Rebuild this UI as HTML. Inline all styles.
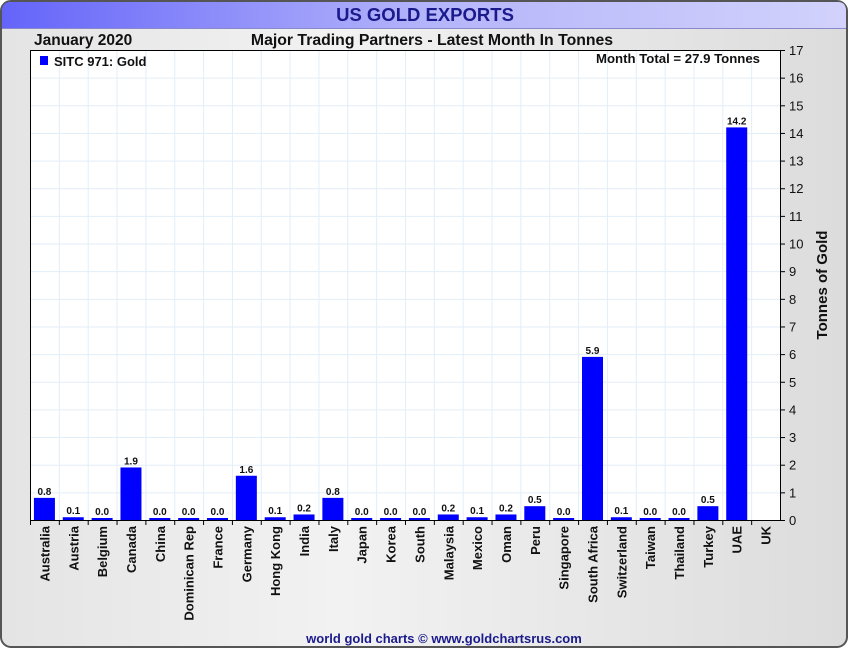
<!DOCTYPE html>
<html><head><meta charset="utf-8"><style>
body{margin:0;width:850px;height:650px;overflow:hidden;background:#fff;font-family:"Liberation Sans",sans-serif}
</style></head><body>
<svg width="850" height="650" xmlns="http://www.w3.org/2000/svg">
<defs>
<linearGradient id="hdr" x1="0" x2="1"><stop offset="0" stop-color="#6464fa"/><stop offset="0.5" stop-color="#b4b4fa"/><stop offset="1" stop-color="#d2d2fc"/></linearGradient>
<linearGradient id="bg" x1="0" x2="1"><stop offset="0" stop-color="#e4e4e4"/><stop offset="0.4" stop-color="#f2f2f2"/><stop offset="1" stop-color="#dcdcdc"/></linearGradient>
</defs>
<rect x="1" y="1" width="846" height="646" rx="10" fill="url(#bg)" stroke="#555" stroke-width="2"/>
<path d="M2,28 L2,11 Q2,2 11,2 L838,2 Q846,2 846,11 L846,28 Z" fill="url(#hdr)"/>
<line x1="2" y1="28.5" x2="846" y2="28.5" stroke="#8888cc"/>
<text x="425" y="21" text-anchor="middle" font-size="18.5" font-weight="bold" fill="#1a1a8c">US GOLD EXPORTS</text>
<text x="34" y="45" font-size="15.5" font-weight="bold" fill="#111">January 2020</text>
<text x="432" y="45" text-anchor="middle" font-size="15.8" font-weight="bold" fill="#111">Major Trading Partners - Latest Month In Tonnes</text>
<rect x="30" y="50" width="750" height="470" fill="#fff"/>
<g id="grid"></g>
<g id="bars"></g>
<rect x="30.5" y="50.5" width="750" height="470" fill="none" stroke="#000"/>
<rect x="40" y="56" width="8" height="9" fill="#0000ff"/>
<text x="54" y="66" font-size="13" font-weight="bold" fill="#111">SITC 971: Gold</text>
<text x="760" y="63" text-anchor="end" font-size="13.2" font-weight="bold" fill="#111">Month Total = 27.9 Tonnes</text>
<g id="yticks"></g>
<g id="xlabels"></g>
<text transform="translate(827,285) rotate(-90)" text-anchor="middle" font-size="15" font-weight="bold" fill="#111">Tonnes of Gold</text>
<text x="444" y="643" text-anchor="middle" font-size="13" font-weight="bold" fill="#1a1a8c">world gold charts © www.goldchartsrus.com</text>
</svg>
<script>
const categories=["Australia","Austria","Belgium","Canada","China","Dominican Rep","France","Germany","Hong Kong","India","Italy","Japan","Korea","South","Malaysia","Mexico","Oman","Peru","Singapore","South Africa","Switzerland","Taiwan","Thailand","Turkey","UAE","UK"];
const values=[0.8,0.1,0.0,1.9,0.0,0.0,0.0,1.6,0.1,0.2,0.8,0.0,0.0,0.0,0.2,0.1,0.2,0.5,0.0,5.9,0.1,0.0,0.0,0.5,14.2,null];
const yTicks=[0,1,2,3,4,5,6,7,8,9,10,11,12,13,14,15,16,17];
const NS="http://www.w3.org/2000/svg";
const L=30,R=780,T=50,B=520,YMAX=17;
const bw=(R-L)/categories.length;
function y(v){return B-(v/YMAX)*(B-T);}
function x(i){return L+i*bw;}
function mk(t,a,p){const e=document.createElementNS(NS,t);for(const k in a)e.setAttribute(k,a[k]);p.appendChild(e);return e;}
const grid=document.getElementById('grid'),bars=document.getElementById('bars'),yt=document.getElementById('yticks'),xl=document.getElementById('xlabels');
yTicks.forEach(v=>{
 if(v>0&&v<YMAX){const g=mk('line',{x1:L,x2:R,y1:y(v)+0.5,y2:y(v)+0.5,stroke:'#e2eef8'},grid);
 
 }
 const tk=mk('line',{x1:R,x2:R+5,y1:y(v)+0.5,y2:y(v)+0.5,stroke:'#000'},yt);
 
 
 const t=mk('text',{x:R+9,y:y(v)+5,'font-size':13,fill:'#111'},yt);t.textContent=v;
 
 
});
categories.forEach((c,i)=>{
 if(i>0){const g=mk('line',{x1:x(i)+0.5,x2:x(i)+0.5,y1:T,y2:B,stroke:'#e2eef8'},grid);
 
 }
 const tk=mk('line',{x1:x(i)+0.5,x2:x(i)+0.5,y1:B,y2:B+5,stroke:'#000'},xl);
 
 
 const cx=x(i)+bw/2;
 const t=mk('text',{transform:`translate(${cx+5},${B+6}) rotate(-90)`,'text-anchor':'end','font-size':13,'font-weight':'bold',fill:'#111'},xl);t.textContent=c;
 
 
 const v=values[i];
 if(v!==null){
  const h=Math.max(B-y(v),2);
  const r=mk('rect',{x:cx-10.5,y:B-h,width:21,height:h,fill:'#0000ff'},bars);
  
  
  const lb=mk('text',{x:cx,y:B-h-3,'text-anchor':'middle','font-size':10,'font-weight':'bold',fill:'#111'},bars);lb.textContent=v.toFixed(1);
  
  
 }
});
</script>
</body></html>
